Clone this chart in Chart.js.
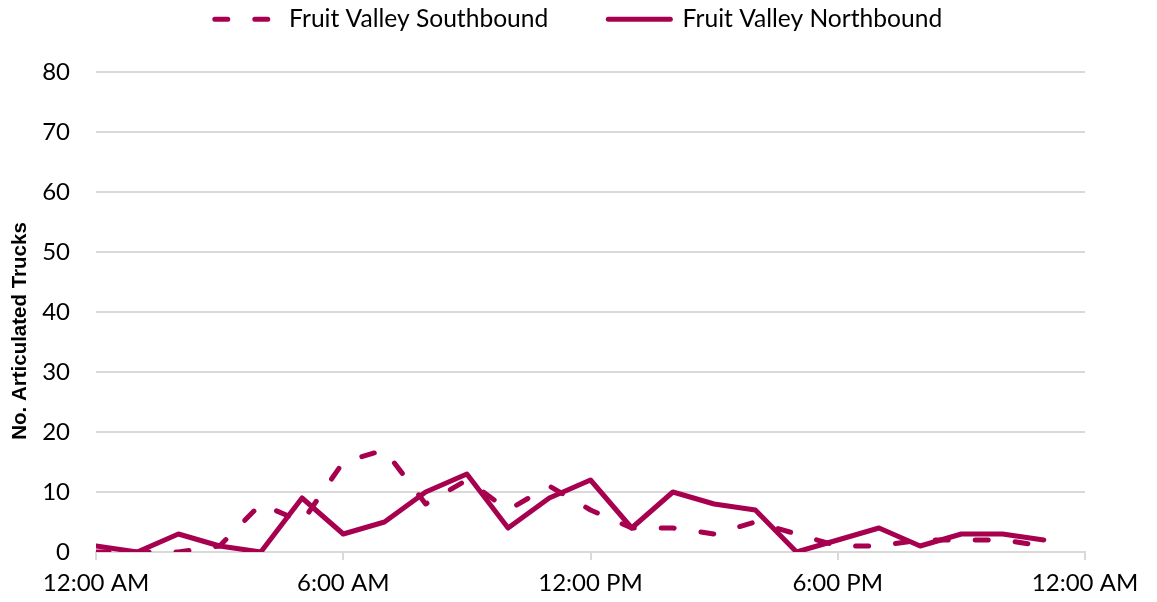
<!DOCTYPE html>
<html>
<head>
<meta charset="utf-8">
<script src="https://cdn.jsdelivr.net/npm/chart.js@4/dist/chart.umd.min.js"></script>
<style>
  html, body { margin: 0; padding: 0; background: #fff; }
  #wrap { width: 1157px; height: 602px; }
</style>
</head>
<body>
<div id="wrap"><canvas id="myChart" width="1157" height="602"></canvas></div>
<script>
//truck counts by hour of day
var hours = [0, 1, 2, 3, 4, 5, 6, 7, 8, 9, 10, 11, 12, 13, 14, 15, 16, 17, 18, 19, 20, 21, 22, 23];
var southbound = [0, 0, 0, 1, 8, 5, 15, 17, 8, 12, 7, 11, 7, 4, 4, 3, 5, 3, 1, 1, 2, 2, 2, 1];
var northbound = [1, 0, 3, 1, 0, 9, 3, 5, 10, 13, 4, 9, 12, 4, 10, 8, 7, 0, 2, 4, 1, 3, 3, 2];
var xTickLabels = ["12:00 AM", "6:00 AM", "12:00 PM", "6:00 PM", "12:00 AM"];
var seriesNames = ["Fruit Valley Southbound", "Fruit Valley Northbound"];

var lineColor = "#a6004f";
var gridColor = "#d9d9d9";
var fontName = "Lato, 'Open Sans', sans-serif";

function toPoints(vals) {
    return hours.map(function (h, i) { return {x: h, y: vals[i]}; });
}

//legend items with the dataset dash pattern
function legendLabels(chart) {
    var items = Chart.defaults.plugins.legend.labels.generateLabels(chart);
    items.forEach(function (it) {
        var ds = chart.data.datasets[it.datasetIndex];
        it.lineDash = ds.borderDash || [];
        it.lineCap = 'round';
        it.lineWidth = 5;
        it.pointStyle = 'line';
    });
    return items;
}

//keep the wide legend spacing but give it a short box,
//center it on the whole canvas and nudge the y title down
var layoutTweaks = {
    id: 'layoutTweaks',
    beforeLayout: function (chart) {
        var lg = chart.legend;
        if (lg && !lg._patched) {
            var orig = lg.fit;
            lg.fit = function () {
                orig.call(this);
                this.height = 125;
            };
            lg._patched = true;
        }
    },
    afterLayout: function (chart) {
        var lg = chart.legend;
        lg.left = 0;
        lg.right = chart.width;
        lg.width = chart.width;
        var ys = chart.scales.y;
        if (!ys._patched) {
            var origTitle = ys.drawTitle;
            ys.drawTitle = function () {
                var c = this.ctx;
                c.save();
                c.translate(0, 19);
                origTitle.apply(this, arguments);
                c.restore();
            };
            ys._patched = true;
        }
    }
};

window.onload = main;

function main() {
    var ctx = document.getElementById("myChart").getContext("2d");
    new Chart(ctx, {
        type: 'line',
        data: {
            datasets: [
                {
                    label: seriesNames[0],
                    data: toPoints(southbound),
                    borderColor: lineColor,
                    backgroundColor: lineColor,
                    borderWidth: 5,
                    borderDash: [13, 27],
                    borderCapStyle: 'round',
                    borderJoinStyle: 'round',
                    pointRadius: 0,
                    tension: 0,
                    fill: false
                },
                {
                    label: seriesNames[1],
                    data: toPoints(northbound),
                    borderColor: lineColor,
                    backgroundColor: lineColor,
                    borderWidth: 5,
                    borderCapStyle: 'round',
                    borderJoinStyle: 'round',
                    pointRadius: 0,
                    tension: 0,
                    fill: false
                }
            ]
        },
        plugins: [layoutTweaks],
        options: {
            responsive: false,
            animation: false,
            layout: {
                padding: {left: 0, right: 72, top: -53, bottom: 4}
            },
            plugins: {
                tooltip: {enabled: false},
                legend: {
                    position: 'top',
                    labels: {
                        usePointStyle: true,
                        pointStyle: 'line',
                        pointStyleWidth: 62,
                        boxWidth: 62,
                        color: '#000',
                        padding: 60,
                        font: {family: fontName, size: 24.6},
                        generateLabels: legendLabels
                    }
                }
            },
            scales: {
                x: {
                    type: 'linear',
                    min: 0,
                    max: 24,
                    afterFit: function (scale) { scale.height = 46; },
                    ticks: {
                        stepSize: 6,
                        color: '#000',
                        padding: 9,
                        maxRotation: 0,
                        font: {family: fontName, size: 24},
                        callback: function (v) {
                            return xTickLabels[v / 6];
                        }
                    },
                    grid: {
                        drawOnChartArea: false,
                        drawTicks: true,
                        tickLength: 8,
                        color: gridColor,
                        lineWidth: 2
                    },
                    border: {color: gridColor, width: 2}
                },
                y: {
                    min: 0,
                    max: 80,
                    afterFit: function (scale) { scale.width = 96; },
                    ticks: {
                        stepSize: 10,
                        color: '#000',
                        padding: 26,
                        font: {family: fontName, size: 24}
                    },
                    grid: {
                        color: gridColor,
                        lineWidth: 2,
                        drawTicks: false
                    },
                    border: {display: false},
                    title: {
                        display: true,
                        text: 'No. Articulated Trucks',
                        color: '#000',
                        font: {family: "'Liberation Sans', Arial, sans-serif", size: 20.5, weight: 'bold'},
                        padding: {top: 8, bottom: 0}
                    }
                }
            }
        }
    });
}
</script>
</body>
</html>
